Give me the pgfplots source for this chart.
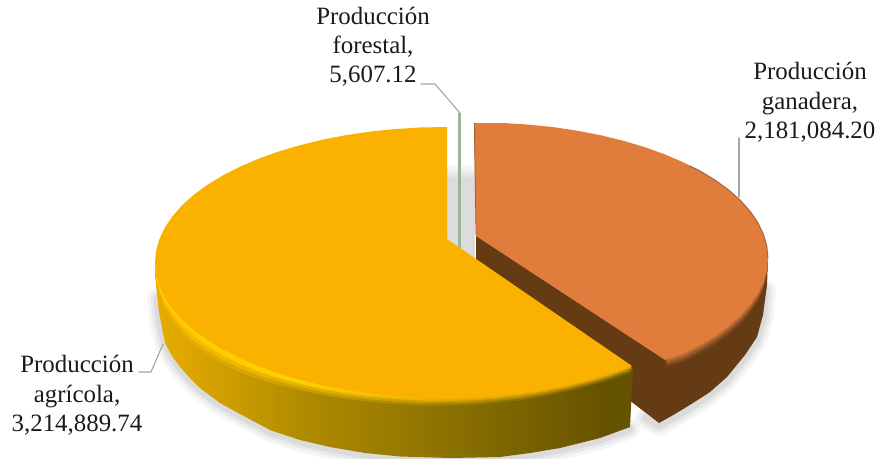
\documentclass[border=0pt]{standalone}
\usepackage{fontspec}
\setmainfont{Liberation Serif}
\usepackage{pgfplots}
\usepackage{pgfplotstable}
\pgfplotsset{compat=1.18}

% Colours of the two large slices and the thin one
\definecolor{yface}{HTML}{FBB100}
\definecolor{oface}{HTML}{E07C3C}
\definecolor{oside}{HTML}{653B14}
\definecolor{oL}{HTML}{7A481C}
\definecolor{oM}{HTML}{985A28}
\definecolor{oH}{HTML}{BE6C33}
\definecolor{forest}{HTML}{9CB596}
\definecolor{gap}{HTML}{DCDCDC}
\definecolor{lead}{HTML}{A6A6A6}
\definecolor{ink}{HTML}{1A1A1A}

\definecolor{ya}{HTML}{E8AC00}\definecolor{yb}{HTML}{C99A00}\definecolor{yc}{HTML}{B08C00}\definecolor{yd}{HTML}{8A7000}\definecolor{ye}{HTML}{665300}
\pgfdeclarehorizontalshading{yside}{100bp}{color(0bp)=(ya);color(25bp)=(ya);color(34bp)=(yb);color(40bp)=(yc);color(56bp)=(yd);color(72bp)=(ye);color(100bp)=(ye)}

% Bevel bands along the front rim of the large slice
\definecolor{ra}{HTML}{EEB000}\definecolor{rb}{HTML}{CCA000}\definecolor{rc}{HTML}{A08000}\definecolor{rd}{HTML}{7A6200}
\pgfdeclarehorizontalshading{yrimA}{100bp}{color(0bp)=(ra);color(25bp)=(ra);color(40bp)=(rb);color(56bp)=(rc);color(72bp)=(rd);color(100bp)=(rd)}
\definecolor{sa}{HTML}{F8BC00}\definecolor{sb}{HTML}{E4B400}\definecolor{sc}{HTML}{C09600}\definecolor{sd}{HTML}{A08000}
\pgfdeclarehorizontalshading{yrimB}{100bp}{color(0bp)=(sa);color(25bp)=(sa);color(40bp)=(sb);color(56bp)=(sc);color(72bp)=(sd);color(100bp)=(sd)}
\definecolor{ta}{HTML}{FFC800}\definecolor{tb}{HTML}{FFD000}\definecolor{tc}{HTML}{E0A800}\definecolor{td}{HTML}{C89600}
\pgfdeclarehorizontalshading{yrimC}{100bp}{color(0bp)=(ta);color(25bp)=(ta);color(40bp)=(tb);color(56bp)=(tc);color(72bp)=(td);color(100bp)=(td)}
\definecolor{ua}{HTML}{FFD000}\definecolor{ub}{HTML}{FFD200}\definecolor{uc}{HTML}{F4AE00}\definecolor{ud}{HTML}{E4A600}
\pgfdeclarehorizontalshading{yrimD}{100bp}{color(0bp)=(ua);color(25bp)=(ua);color(40bp)=(ub);color(56bp)=(uc);color(72bp)=(ud);color(100bp)=(ud)}

% Producción agrícola: front rim of the top face, with the bevel height d
\pgfplotstableread{
x y d
155 262.5 0
156.1 274.3 5
159.4 286 9
164.9 297.6 11
172.5 308.8 12.5
182.2 319.8 14
193.9 330.3 15
207.4 340.2 15
222.9 349.6 14.5
239.9 358.3 14
258.6 366.3 13
278.7 373.5 11.5
300 379.8 10
322.4 385.3 9.5
345.8 389.8 9
369.9 393.4 8.5
394.6 395.9 8
419.7 397.5 8
445 398 7.5
470.3 397.5 7.5
495.4 395.9 7
520.1 393.4 7
544.2 389.8 6.5
567.6 385.3 6
590 379.8 6
611.3 373.5 6
632 366 6
}\yrim

% Producción agrícola: whole top face
\pgfplotstableread{
x y
447 239
447 127
419.7 127.5
394.6 129.1
369.9 131.6
345.8 135.2
322.4 139.7
300 145.2
278.7 151.5
258.6 158.7
239.9 166.7
222.9 175.4
207.4 184.8
193.9 194.7
182.2 205.2
172.5 216.2
164.9 227.4
159.4 239
156.1 250.7
155 262.5
156.1 274.3
159.4 286
164.9 297.6
172.5 308.8
182.2 319.8
193.9 330.3
207.4 340.2
222.9 349.6
239.9 358.3
258.6 366.3
278.7 373.5
300 379.8
322.4 385.3
345.8 389.8
369.9 393.4
394.6 395.9
419.7 397.5
445 398
470.3 397.5
495.4 395.9
520.1 393.4
544.2 389.8
567.6 385.3
590 379.8
611.3 373.5
632 366
}\ytop

% Producción agrícola: outline of the side wall
\pgfplotstableread{
x y
155 262.5
156 285
159 312
165 343
172 356
180 367
190 378
200 388
220 403
240 414
270 430
300 440
330 447
365 453
400 456.5
450 458
500 457
530 453
560 448
600 438
630 427
633 368
}\yside

% Producción ganadera: whole top face
\pgfplotstableread{
x y
476 236
474 123
503.3 123
528.4 124.6
553.1 127.1
577.2 130.7
600.6 135.2
623 140.7
644.3 147
664.4 154.2
683.1 162.2
700.1 170.9
715.6 180.3
729.1 190.2
740.8 200.7
750.5 211.7
758.1 222.9
763.6 234.5
766.9 246.2
768 258
766.9 269.8
763.6 281.5
758.1 293.1
750.5 304.3
740.8 315.3
729.1 325.8
715.6 335.7
700.1 345.1
683.1 353.8
665 360
}\otop

% Producción ganadera: front rim of the top face, with the bevel height d
\pgfplotstableread{
x y d
768 258 0
766.9 269.8 4
763.6 281.5 7
758.1 293.1 8
750.5 304.3 8
740.8 315.3 8
729.1 325.8 8
715.6 335.7 8
700.1 345.1 8
683.1 353.8 8
665 360 7
}\orim

% Producción ganadera: back edge, darkened
\pgfplotstableread{
x y
690 166
700.1 170.9
715.6 180.3
729.1 190.2
740.8 200.7
750.5 211.7
758.1 222.9
763.6 234.5
766.9 246.2
768 258
}\oback

% Producción ganadera: side wall together with the cut face
\pgfplotstableread{
x y
476 233
768 258
767 285
763 315
757 337
745 355
727 377
710 392
693 403
675 414
659 423
633 403
476 290
}\oside

% Outer edges that cast the soft shadow
\pgfplotstableread{
x y
157 298
160 325
165 345
172 358
180 369
190 380
200 390
220 405
240 416
270 432
300 442
330 449
365 455
400 458.5
450 460
500 459
530 455
560 450
600 440
630 429
}\yshadow
\pgfplotstableread{
x y
766 290
763 320
757 340
745 358
727 380
710 395
693 406
675 417
659 426
645 418
}\oshadow

\begin{document}
\begin{tikzpicture}
\path[use as bounding box] (0,0) rectangle (881bp,459bp);
\begin{axis}[
  at={(0,0)}, anchor=south west,
  scale only axis, width=881bp, height=459bp,
  xmin=0, xmax=881, ymin=0, ymax=459, y dir=reverse,
  hide axis, clip=true,
  line join=round, line cap=round,
]
  % Soft shadow under the pie
  \addplot[draw=black, opacity=.04, line width=20bp] table[x=x,y=y] {\yshadow};
  \addplot[draw=black, opacity=.05, line width=13bp] table[x=x,y=y] {\yshadow};
  \addplot[draw=black, opacity=.06, line width=7bp] table[x=x,y=y] {\yshadow};
  \addplot[draw=black, opacity=.04, line width=20bp] table[x=x,y=y] {\oshadow};
  \addplot[draw=black, opacity=.05, line width=13bp] table[x=x,y=y] {\oshadow};
  \addplot[draw=black, opacity=.06, line width=7bp] table[x=x,y=y] {\oshadow};

  % Shadow seen through the gap between the slices
  \addplot[draw=none, fill=gap] coordinates {(447,178) (475,178) (475,262) (447,262)} -- cycle;
  \addplot[draw=none, top color=white, bottom color=gap] coordinates {(447,163) (475,163) (475,179) (447,179)} -- cycle;

  % Producción forestal
  \addplot[draw=none, fill=forest] coordinates {(458.4,113) (460.8,113) (460.8,248) (458.4,248)} -- cycle;

  % Producción ganadera
  \addplot[draw=none, fill=oside] table[x=x,y=y] {\oside} -- cycle;
  \addplot[draw=none, fill=oL] table[x=x,y expr=\thisrow{y}+\thisrow{d}] {\orim} -- cycle;
  \addplot[draw=none, fill=oM] table[x=x,y expr=\thisrow{y}+0.65*\thisrow{d}] {\orim} -- cycle;
  \addplot[draw=none, fill=oH] table[x=x,y expr=\thisrow{y}+0.3*\thisrow{d}] {\orim} -- cycle;
  \addplot[draw=none, fill=oface] table[x=x,y=y] {\otop} -- cycle;
  \addplot[draw=oside, opacity=.55, line width=1bp] table[x=x,y=y] {\oback};
  \addplot[draw=oM, line width=.7bp] coordinates {(474.3,123) (476,234)};

  % Producción agrícola
  \addplot[draw=none, shading=yside] table[x=x,y=y] {\yside} -- cycle;
  \addplot[draw=none, shading=yrimA] table[x=x,y expr=\thisrow{y}+\thisrow{d}] {\yrim} -- cycle;
  \addplot[draw=none, shading=yrimB] table[x=x,y expr=\thisrow{y}+0.7*\thisrow{d}] {\yrim} -- cycle;
  \addplot[draw=none, shading=yrimC] table[x=x,y expr=\thisrow{y}+0.4*\thisrow{d}] {\yrim} -- cycle;
  \addplot[draw=none, shading=yrimD] table[x=x,y expr=\thisrow{y}+0.2*\thisrow{d}] {\yrim} -- cycle;
  \addplot[draw=none, fill=yface] table[x=x,y=y] {\ytop} -- cycle;

  % Leader lines
  \addplot[draw=lead, line width=1.1bp] coordinates {(421,84) (435,84) (460,113)};
  \addplot[draw=lead, line width=1.1bp] coordinates {(739,138) (739,197)};
  \addplot[draw=lead, line width=1.1bp] coordinates {(139,372) (151,372) (163,344)};

  % Data labels
  \begin{scope}[every node/.style={anchor=base, text=ink, font=\fontsize{25}{29}\selectfont, inner sep=0pt}]
    \node at (axis cs:373,25) {Producción};
    \node at (axis cs:373,54) {forestal,};
    \node at (axis cs:373,83) {5,607.12};
    \node at (axis cs:810,80) {Producción};
    \node at (axis cs:810,109) {ganadera,};
    \node at (axis cs:810,138) {2,181,084.20};
    \node at (axis cs:77,372) {Producción};
    \node at (axis cs:77,402) {agrícola,};
    \node at (axis cs:77,431) {3,214,889.74};
  \end{scope}
\end{axis}
\end{tikzpicture}
\end{document}
